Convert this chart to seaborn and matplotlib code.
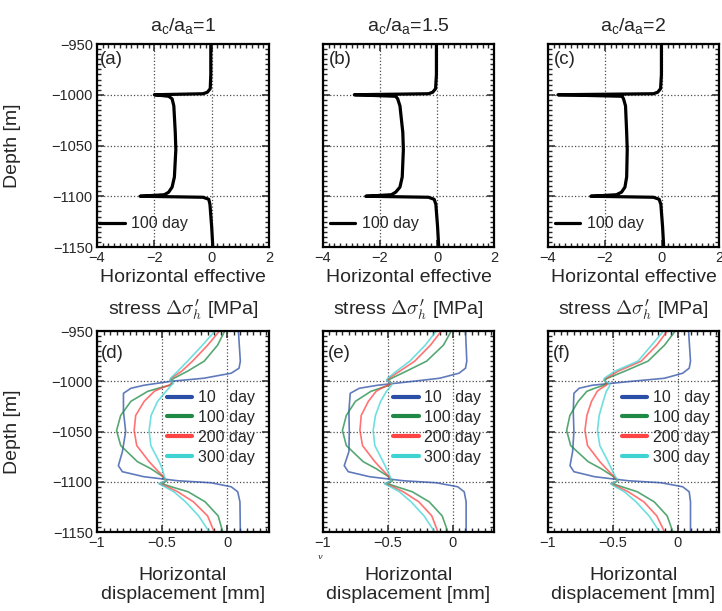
import pandas as pd
import seaborn as sns
import matplotlib.pyplot as plt
from matplotlib.ticker import MultipleLocator, FuncFormatter

# ---- top row: horizontal effective stress change (100 day) ----
stress_depth = [-950, -980, -994, -997.5, -999, -1000, -1001.5, -1004, -1011, -1037, -1054,
                -1081, -1091, -1096, -1098.5, -1100, -1101, -1103, -1108, -1130, -1150]
stress_a = [-0.03, -0.03, -0.05, -0.15, -0.3, -2.0, -1.5, -1.38, -1.32, -1.27, -1.25,
            -1.3, -1.38, -1.5, -1.65, -2.5, -0.3, -0.1, -0.06, 0.0, 0.04]
stress_b = [-0.02, -0.02, -0.05, -0.15, -0.3, -2.9, -1.45, -1.38, -1.3, -1.2, -1.18,
            -1.22, -1.3, -1.45, -1.6, -2.5, -0.3, -0.1, -0.04, 0.02, 0.06]
stress_c = [-0.02, -0.02, -0.05, -0.15, -0.3, -3.65, -1.4, -1.35, -1.28, -1.24, -1.22,
            -1.24, -1.3, -1.42, -1.6, -2.5, -0.3, -0.1, -0.04, 0.02, 0.06]

# ---- bottom row: horizontal displacement ----
disp_depth = [-950, -964, -980, -990, -997, -999, -1002, -1004, -1007, -1010, -1020, -1034,
              -1049, -1064, -1080, -1087, -1094, -1099, -1102, -1105, -1110, -1120, -1134, -1150]
blue_depth = [-950, -980, -987, -992, -997, -1000, -1004, -1007, -1012, -1030, -1050,
              -1070, -1084, -1090, -1095, -1099, -1101, -1105, -1110, -1120, -1150]

d_10 = [0.085, 0.1, 0.09, 0.03, -0.18, -0.43, -0.64, -0.74, -0.797, -0.797, -0.78,
        -0.805, -0.836, -0.805, -0.64, -0.38, -0.126, 0.03, 0.08, 0.097, 0.1]
d_100 = [-0.02, -0.074, -0.177, -0.305, -0.41, -0.43, -0.425, -0.44, -0.53, -0.61, -0.74, -0.818,
         -0.85, -0.818, -0.69, -0.587, -0.505, -0.464, -0.5, -0.43, -0.3, -0.17, -0.07, -0.035]
d_200 = [-0.06, -0.15, -0.267, -0.35, -0.43, -0.44, -0.42, -0.45, -0.51, -0.56, -0.638, -0.703,
         -0.715, -0.695, -0.6, -0.55, -0.497, -0.472, -0.52, -0.46, -0.38, -0.26, -0.151, -0.1]
d_300 = [-0.095, -0.19, -0.305, -0.38, -0.435, -0.44, -0.413, -0.43, -0.45, -0.47, -0.535, -0.585,
         -0.6, -0.587, -0.523, -0.5, -0.485, -0.472, -0.525, -0.48, -0.41, -0.32, -0.22, -0.138]

e_10 = [0.1, 0.11, 0.1, 0.05, -0.1, -0.3, -0.58, -0.72, -0.79, -0.8, -0.797,
        -0.8, -0.836, -0.805, -0.64, -0.38, -0.126, 0.04, 0.09, 0.105, 0.105]
e_100 = [-0.01, -0.07, -0.2, -0.357, -0.47, -0.5, -0.47, -0.49, -0.56, -0.63, -0.75, -0.82,
         -0.85, -0.82, -0.69, -0.59, -0.505, -0.464, -0.5, -0.43, -0.31, -0.18, -0.08, -0.036]
e_200 = [-0.087, -0.17, -0.292, -0.408, -0.49, -0.505, -0.47, -0.5, -0.55, -0.59, -0.65, -0.705,
         -0.715, -0.695, -0.6, -0.55, -0.497, -0.472, -0.52, -0.46, -0.38, -0.26, -0.16, -0.113]
e_300 = [-0.126, -0.21, -0.33, -0.433, -0.5, -0.51, -0.47, -0.47, -0.49, -0.51, -0.555, -0.595,
         -0.613, -0.6, -0.536, -0.51, -0.485, -0.472, -0.525, -0.48, -0.41, -0.32, -0.22, -0.138]

f_10 = [0.085, 0.1, 0.09, 0.04, -0.1, -0.35, -0.66, -0.76, -0.8, -0.805, -0.8,
        -0.81, -0.83, -0.8, -0.64, -0.38, -0.126, 0.04, 0.09, 0.1, 0.1]
f_100 = [-0.018, -0.1, -0.228, -0.408, -0.54, -0.565, -0.55, -0.57, -0.64, -0.7, -0.767, -0.831,
         -0.856, -0.825, -0.69, -0.59, -0.505, -0.46, -0.5, -0.43, -0.31, -0.18, -0.08, -0.036]
f_200 = [-0.079, -0.16, -0.28, -0.459, -0.55, -0.565, -0.54, -0.55, -0.59, -0.62, -0.664, -0.7,
         -0.715, -0.695, -0.6, -0.55, -0.497, -0.46, -0.515, -0.46, -0.38, -0.26, -0.16, -0.1]
f_300 = [-0.108, -0.2, -0.305, -0.485, -0.565, -0.57, -0.53, -0.523, -0.535, -0.55, -0.574, -0.605,
         -0.618, -0.6, -0.536, -0.51, -0.485, -0.46, -0.515, -0.48, -0.41, -0.32, -0.22, -0.138]

titles = ['1', '1.5', '2']
day_labels = ['10   day', '100 day', '200 day', '300 day']
day_colors = ['#2b4fa6', '#1e8a45', '#ff4444', '#3fd4d4']

sns.set_style('ticks')
plt.rcParams['font.family'] = ['Liberation Sans', 'DejaVu Sans']
plt.rcParams['mathtext.fontset'] = 'cm'

fig = plt.figure(figsize=(7.22, 6.11), dpi=100)
W, H = 722, 611
lefts = [97, 323, 548]
widths = [172, 171, 171]

fmt = FuncFormatter(lambda v, p: ('%g' % v).replace('-', '\u2212'))


def style(ax, xlim, major, minor):
    ax.set_xlim(xlim)
    ax.set_ylim(-1150, -950)
    ax.xaxis.set_major_locator(MultipleLocator(major))
    ax.xaxis.set_minor_locator(MultipleLocator(minor))
    ax.yaxis.set_major_locator(MultipleLocator(50))
    ax.yaxis.set_minor_locator(MultipleLocator(5))
    ax.xaxis.set_major_formatter(fmt)
    ax.yaxis.set_major_formatter(fmt)
    ax.tick_params(which='both', direction='in', top=True, right=True, labelsize=10.5)
    ax.tick_params(which='major', length=5, width=1.1, pad=3)
    ax.tick_params(which='minor', length=3, width=1.0)
    ax.grid(True, which='major', linestyle=':', color='0.3', linewidth=0.9)
    for s in ax.spines.values():
        s.set_linewidth(1.6)
        s.set_color('black')


stress_series = [stress_a, stress_b, stress_c]
top_tags = ['(a)', '(b)', '(c)']
top_leg_x = [0.012, 0.04, 0.04]
for i in range(3):
    ax = fig.add_axes([lefts[i] / W, 1 - 247 / H, widths[i] / W, 203 / H])
    df = pd.DataFrame({'x': stress_series[i], 'depth': stress_depth})
    sns.lineplot(data=df, x='x', y='depth', sort=False, estimator=None, color='black',
                 linewidth=2.3, label='100 day', ax=ax)
    style(ax, (-4, 2), 2, 0.2)
    ax.set_title(r'$\mathregular{a_c/a_a}$=' + titles[i], fontsize=14, pad=9)
    ax.set_xlabel('Horizontal effective\nstress ' + r'$\Delta\sigma^{\prime}_{h}$' + ' [MPa]',
                  fontsize=14, labelpad=3, linespacing=1.65)
    ax.text(0.015 if i == 0 else 0.035, 0.965, top_tags[i], transform=ax.transAxes,
            ha='left', va='top', fontsize=13.5)
    ax.legend(loc='center left', bbox_to_anchor=(top_leg_x[i], 0.115), frameon=False,
              fontsize=11.5, handlelength=1.6, handletextpad=0.4, borderpad=0, borderaxespad=0)
    if i == 0:
        ax.set_ylabel('Depth [m]', fontsize=14)
        ax.yaxis.set_label_coords(-0.44, 0.5)
    else:
        ax.set_ylabel('')
        ax.set_yticklabels([])

disp_series = [[d_10, d_100, d_200, d_300], [e_10, e_100, e_200, e_300], [f_10, f_100, f_200, f_300]]
bot_tags = ['(d)', '(e)', '(f)']
bot_leg_x = [0.405, 0.41, 0.43]
for i in range(3):
    ax = fig.add_axes([lefts[i] / W, 1 - 532 / H, widths[i] / W, 201 / H])
    for k in range(4):
        depth = blue_depth if k == 0 else disp_depth
        df = pd.DataFrame({'x': disp_series[i][k], 'depth': depth})
        sns.lineplot(data=df, x='x', y='depth', sort=False, estimator=None, color=day_colors[k],
                     linewidth=1.2, alpha=0.75, label=day_labels[k], ax=ax)
    style(ax, (-1, 0.32), 0.5, 0.05)
    ax.set_xlabel('Horizontal\ndisplacement [mm]', fontsize=14, labelpad=12, linespacing=1.2)
    ax.text(0.02 if i == 0 else 0.03, 0.93, bot_tags[i], transform=ax.transAxes,
            ha='left', va='top', fontsize=13.5)
    leg = ax.legend(loc='upper left', bbox_to_anchor=(bot_leg_x[i], 0.705), frameon=False,
                    fontsize=11.5, handlelength=1.6, handletextpad=0.35, labelspacing=0.3,
                    borderpad=0, borderaxespad=0)
    for h in leg.legend_handles:
        h.set_linewidth(3)
        h.set_alpha(1)
    if i == 0:
        ax.set_ylabel('Depth [m]', fontsize=14)
        ax.yaxis.set_label_coords(-0.44, 0.5)
    else:
        ax.set_ylabel('')
        ax.set_yticklabels([])

fig.text(320 / W, 1 - 557 / H, 'v', fontsize=6, style='italic', family='DejaVu Serif',
         ha='center', va='center')

plt.savefig('out.png', dpi=100)
